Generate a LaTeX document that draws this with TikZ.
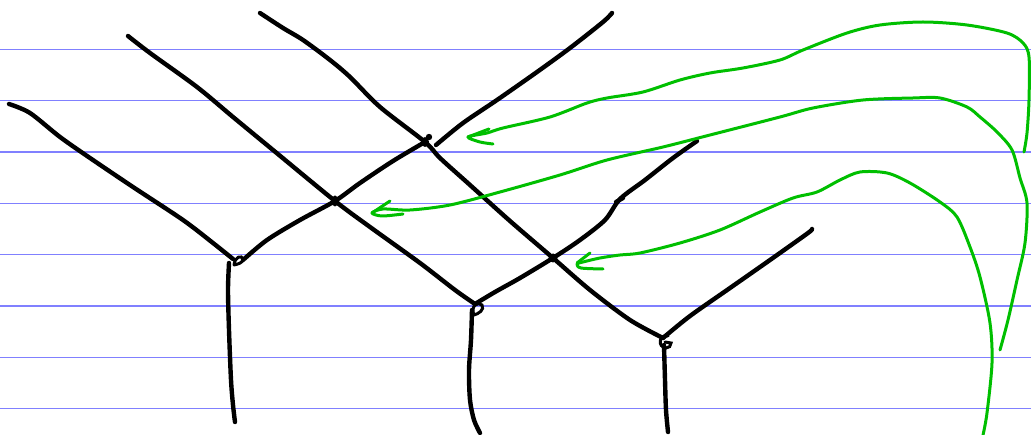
\documentclass[tikz,border=0pt]{standalone}
\begin{document}
\begin{tikzpicture}[x=1pt,y=-1pt,
  rule/.style={draw=blue!50!white,line width=1.3pt},
  ink/.style={draw=black,line width=4.4pt,line cap=round,line join=round},
  thin ink/.style={draw=black,line width=3pt,line cap=round},
  pen/.style={draw=green!75!black,line width=3pt,line cap=round,line join=round}]
\path[fill=white,use as bounding box] (0,0) rectangle (1031,435);
% ruled lines
\foreach \y in {49.5,100.8,152.1,203.4,254.7,306,357.3,408.6}
  \draw[rule] (0,\y) -- (1031,\y);
% key points
\coordinate (vA) at (233,259);
\coordinate (xAB) at (335,201);
\coordinate (xT) at (425,142);
\coordinate (vB) at (475,304);
\coordinate (xC) at (553,258);
\coordinate (vC) at (663,338);
\coordinate (tick) at (620,199);
% line A
\draw[ink] plot[smooth,tension=0.5] coordinates {(9,104) (30,113) (60,137) (90,158) (133,187) (183,220) (213,243) (vA)};
\draw[ink] plot[smooth,tension=0.5] coordinates {(229,263) (228,290) (229,330) (231,380) (233,405) (235,422)};
% line B
\draw[ink] plot[smooth,tension=0.5] coordinates {(128,36) (150,53) (197,87) (233,117) (273,150) (xAB) (370,227) (420,263) (455,290) (vB)};
\draw[ink] plot[smooth,tension=0.5] coordinates {(472,310) (471,340) (469,370) (470,400) (474,420) (480,433)};
% line C
\draw[ink] plot[smooth,tension=0.5] coordinates {(260,13) (283,28) (303,40) (330,60) (350,77) (380,107) (xT) (440,158) (470,185) (510,221) (xC) (590,290) (630,320) (vC)};
\draw[ink] plot[smooth,tension=0.5] coordinates {(664,345) (665,380) (666,410) (668,432)};
% line D
\draw[ink] plot[smooth,tension=0.5] coordinates {(612,13) (603,22) (570,48) (537,72) (497,100) (463,123) (436,145)};
\draw[ink] plot[smooth,tension=0.5] coordinates {(xT) (393,161) (360,183) (xAB) (300,220) (267,240) (243,260)};
% line E
\draw[ink] plot[smooth,tension=0.5] coordinates {(697,141) (673,158) (645,180) (tick) (605,220) (580,240) (xC) (520,278) (495,292) (vB)};
% line F
\draw[ink] plot[smooth,tension=0.5] coordinates {(812,229) (808,233) (770,260) (730,288) (690,316) (vC)};
% knots and marks
\draw[thin ink] (234,265) .. controls (235,256) and (242,255) .. (243,259) .. controls (243,263) and (238,264) .. (234,265);
\draw[thin ink] (474,315) .. controls (470,306) and (478,301) .. (482,305) .. controls (485,310) and (478,314) .. (474,315);
\draw[thin ink] (668,336) .. controls (659,334) and (657,347) .. (666,348) .. controls (669,348) and (671,346) .. (671,343) -- (665,342);
\fill (xT) ellipse (4 and 5);
\fill (429,137) circle (3.2);
\fill (xAB) ellipse (3.5 and 5.5);
\fill (xC) circle (4.5);
\draw[ink] (616,202) -- (623,198);
% green arrow 1
\draw[pen] plot[smooth,tension=0.5] coordinates {(1024,152) (1027,133) (1029,100) (1029,57) (1023,43) (1007,33) (967,25) (923,22) (880,25) (847,33) (803,50) (780,60) (743,68) (710,73) (680,80) (643,92) (607,98) (587,103) (550,117) (503,128) (487,133) (468,137) (480,142) (493,144)};
\draw[pen] (489,129) -- (468,137);
% green arrow 2
\draw[pen] plot[smooth,tension=0.5] coordinates {(1000,350) (1008,320) (1017,280) (1025,243) (1027,203) (1020,178) (1012,150) (997,132) (980,117) (967,107) (940,98) (913,98) (863,100) (813,108) (780,117) (710,135) (663,147) (607,160) (560,175) (500,192) (450,205) (410,210) (383,209) (372,213) (382,216) (403,214)};
\draw[pen] (390,201) -- (372,213);
% green arrow 3
\draw[pen] plot[smooth,tension=0.5] coordinates {(983,435) (987,413) (992,363) (990,323) (980,277) (970,247) (957,217) (940,202) (910,183) (887,173) (860,172) (840,180) (817,192) (793,198) (760,212) (720,230) (680,243) (640,253) (620,255) (600,258) (583,262) (577,264) (581,268) (603,269)};
\draw[pen] (590,253) -- (577,263);
\end{tikzpicture}
\end{document}
